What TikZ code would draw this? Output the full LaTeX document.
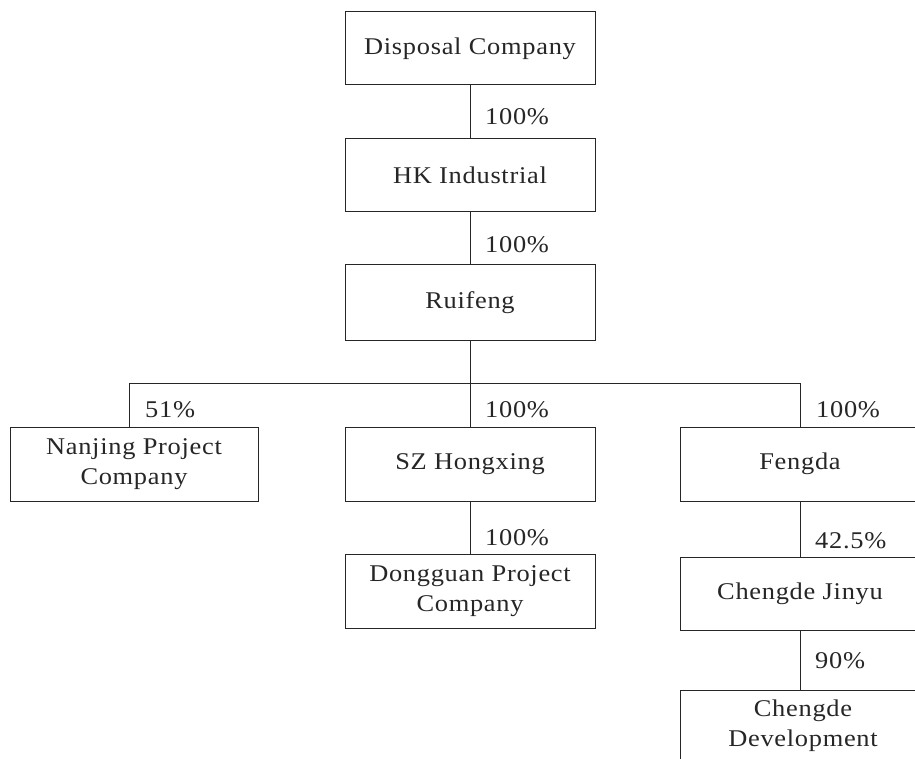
\documentclass[tikz,border=0pt]{standalone}
\usepackage{fontspec}
\setmainfont{Liberation Serif}[LetterSpace=3,FakeStretch=1.1]
\begin{document}
\begin{tikzpicture}[x=1pt,y={(0pt,-1pt)},
  box/.style={draw=black!85,line width=1pt,rectangle,inner sep=0pt,align=center,
    font=\fontsize{24}{30}\selectfont,text=black!85},
  pct/.style={anchor=west,inner sep=0pt,font=\fontsize{24}{30}\selectfont,text=black!85},
  conn/.style={draw=black!85,line width=1pt}]
\useasboundingbox (0,0) rectangle (915,759);
\clip (0,0) rectangle (915,759);
% boxes
\node[box,minimum width=250,minimum height=73] (disp) at (470,48.5) {Disposal Company};
\node[box,minimum width=250,minimum height=73] (hk) at (470,175.5) {HK Industrial};
\node[box,minimum width=250,minimum height=75] (rui) at (470,302.5) {Ruifeng};
\node[box,minimum width=248,minimum height=74] (nj) at (134,464) {Nanjing Project\\Company};
\node[box,minimum width=250,minimum height=74] (sz) at (470,464) {SZ Hongxing};
\node[box,minimum width=240,minimum height=74] (fd) at (800,464) {Fengda};
\node[box,minimum width=250,minimum height=74] (dg) at (470,591) {Dongguan Project\\Company};
\node[box,minimum width=240,minimum height=73] (cj) at (800,593.5) {Chengde Jinyu};
\node[box,minimum width=240,minimum height=100,anchor=north] (cd) at (800,690) {};
\node[inner sep=0pt,align=center,font=\fontsize{24}{30}\selectfont,text=black!85] (cdt) at (803,726) {Chengde\\Development};
% connectors
\coordinate (bus) at (470,383);
\coordinate (busl) at (129,383);
\coordinate (busr) at (800,383);
\draw[conn] (disp.south) -- (hk.north);
\draw[conn] (hk.south) -- (rui.north);
\draw[conn] (rui.south) -- (bus);
\draw[conn] (busl) -- (busr);
\draw[conn] (busl) -- (busl |- nj.north);
\draw[conn] (bus) -- (sz.north);
\draw[conn] (busr) -- (fd.north);
\draw[conn] (sz.south) -- (dg.north);
\draw[conn] (fd.south) -- (cj.north);
\draw[conn] (cj.south) -- (cd.north);
% labels
\node[pct] (l1) at (485,117) {100\%};
\node[pct] (l2) at (485,245) {100\%};
\node[pct] (l3) at (145,410) {51\%};
\node[pct] (l4) at (485,410) {100\%};
\node[pct] (l5) at (816,410) {100\%};
\node[pct] (l6) at (485,538) {100\%};
\node[pct] (l7) at (815,541) {42.5\%};
\node[pct] (l8) at (815,661) {90\%};
\end{tikzpicture}
\end{document}
